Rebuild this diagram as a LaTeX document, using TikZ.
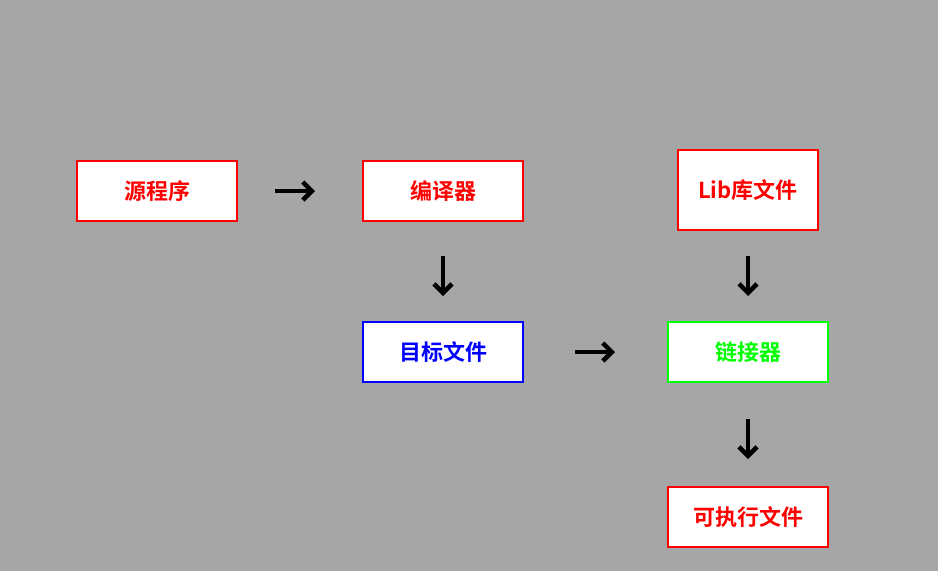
\documentclass[tikz,border=0pt]{standalone}
\usepackage{fontspec}
\newfontfamily\cjk{Noto Sans CJK SC Bold}
\usetikzlibrary{arrows.meta}
\begin{document}
\begin{tikzpicture}[x=1pt,y=-1pt,
  box/.style={draw,line width=2pt,fill=white,minimum width=160pt,minimum height=60pt,inner sep=0pt,font=\cjk\fontsize{22}{26}\selectfont},
  arr/.style={line width=4.5pt,-{Straight Barb[length=9pt,width=18pt,line width=4.5pt]}}]
\fill[gray!70] (0,0) rectangle (938,571);
\useasboundingbox (0,0) rectangle (938,571);
\node[box,draw=red,text=red] (src) at (157,191) {源程序};
\node[box,draw=red,text=red] (cmp) at (443,191) {编译器};
\node[box,draw=red,text=red,minimum width=140pt,minimum height=80pt] (lib) at (748,190) {Lib库文件};
\node[box,draw=blue,text=blue] (obj) at (443,352) {目标文件};
\node[box,draw=green,text=green] (lnk) at (748,352) {链接器};
\node[box,draw=red,text=red] (exe) at (748,517) {可执行文件};
\draw[arr,shorten <=37pt,shorten >=47pt] (src) -- (cmp);
\draw[arr,shorten <=34pt,shorten >=25pt] (cmp) -- (obj);
\draw[arr,shorten <=51pt,shorten >=52pt] (obj) -- (lnk);
\draw[arr,shorten <=25pt,shorten >=25pt] (lib) -- (lnk);
\draw[arr,shorten <=36pt,shorten >=27pt] (lnk) -- (exe);
\end{tikzpicture}
\end{document}
